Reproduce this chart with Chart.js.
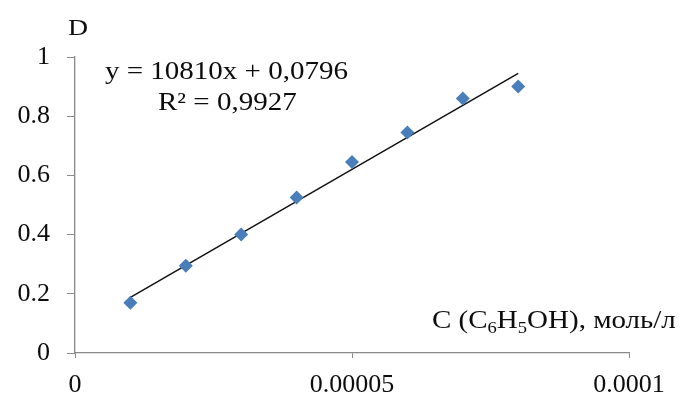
<!DOCTYPE html>
<html>
<head>
<meta charset="utf-8">
<script src="https://cdn.jsdelivr.net/npm/chart.js@4/dist/chart.umd.min.js"></script>
<style>
html,body{margin:0;padding:0;background:#fff;}
#wrap{width:684px;height:397px;position:relative;}
</style>
</head>
<body>
<div id="wrap"><canvas id="c" width="684" height="397"></canvas></div>
<script>
// Data
const concentrations = [0.00001, 0.00002, 0.00003, 0.00004, 0.00005, 0.00006, 0.00007, 0.00008];
const absorbance = [0.17, 0.295, 0.40, 0.525, 0.645, 0.745, 0.86, 0.90];
const xTicks = [0, 0.00005, 0.0001];
const xTickLabels = ['0', '0.00005', '0.0001'];
const yTicks = [0, 0.2, 0.4, 0.6, 0.8, 1];
const yTickLabels = ['0', '0.2', '0.4', '0.6', '0.8', '1'];
// Trend line from the printed equation
const slope = 10810;
const intercept = 0.0796;
const equationText = 'y = 10810x + 0,0796';
const r2Text = 'R² = 0,9927';
const yTitle = 'D';

const FONT = '"Liberation Serif", "Times New Roman", serif';
const AXIS_COLOR = '#898989';
const TEXT_STRETCH = 1.16;

const points = concentrations.map((x, i) => ({x, y: absorbance[i]}));
const xMin = concentrations[0], xMax = concentrations[concentrations.length - 1];
const trend = [{x: xMin, y: slope * xMin + intercept}, {x: xMax, y: slope * xMax + intercept}];

function stretchedText(ctx, text, x, y) {
  ctx.save();
  ctx.translate(x, y);
  ctx.scale(TEXT_STRETCH, 1);
  ctx.fillText(text, 0, 0);
  ctx.restore();
  return ctx.measureText(text).width * TEXT_STRETCH;
}

const textPlugin = {
  id: 'texts',
  afterDraw(chart) {
    const ctx = chart.ctx;
    ctx.save();
    ctx.fillStyle = '#0d0d0d';
    ctx.textBaseline = 'middle';
    ctx.textAlign = 'center';
    ctx.font = '24px ' + FONT;
    stretchedText(ctx, yTitle, 78, 29);
    ctx.textAlign = 'left';
    ctx.font = '25px ' + FONT;
    stretchedText(ctx, equationText, 105, 72);
    stretchedText(ctx, r2Text, 158, 103);
    // x axis title with subscripts
    ctx.textBaseline = 'alphabetic';
    let x = 432;
    const base = 328;
    const parts = [['C (C', 0], ['6', 1], ['H', 0], ['5', 1], ['OH), моль/л', 0]];
    for (const [t, sub] of parts) {
      ctx.font = (sub ? '16px ' : '25px ') + FONT;
      x += stretchedText(ctx, t, x, base + (sub ? 5 : 0));
    }
    ctx.restore();
  }
};

new Chart(document.getElementById('c'), {
  type: 'scatter',
  data: {
    datasets: [
      {
        type: 'line',
        data: trend,
        borderColor: '#111',
        borderWidth: 1.5,
        pointRadius: 0,
        fill: false,
        order: 2
      },
      {
        data: points,
        pointStyle: 'rectRot',
        pointRadius: 7,
        backgroundColor: '#4a7ebb',
        borderColor: '#4a7ebb',
        borderWidth: 0,
        order: 1
      }
    ]
  },
  options: {
    responsive: false,
    animation: false,
    devicePixelRatio: 1,
    layout: {padding: {left: 0, top: 57, right: 55, bottom: 0}},
    plugins: {legend: {display: false}, tooltip: {enabled: false}},
    scales: {
      x: {
        type: 'linear',
        min: 0,
        max: 0.0001,
        afterBuildTicks(scale) { scale.ticks = xTicks.map(v => ({value: v})); },
        afterFit(scale) { scale.height = 44; },
        ticks: {
          callback: (v) => xTickLabels[xTicks.indexOf(v)],
          font: {family: FONT, size: 26},
          color: '#0d0d0d',
          padding: 12,
          maxRotation: 0,
          autoSkip: false
        },
        grid: {drawOnChartArea: false, drawTicks: true, tickLength: 5, color: AXIS_COLOR},
        border: {color: AXIS_COLOR, width: 1.3}
      },
      y: {
        type: 'linear',
        min: 0,
        max: 1,
        afterBuildTicks(scale) { scale.ticks = yTicks.map(v => ({value: v})); },
        afterFit(scale) { scale.width = 75; },
        ticks: {
          callback: (v) => yTickLabels[yTicks.indexOf(v)],
          font: {family: FONT, size: 26},
          color: '#0d0d0d',
          padding: 17
        },
        grid: {drawOnChartArea: false, drawTicks: true, tickLength: 8, color: AXIS_COLOR},
        border: {color: AXIS_COLOR, width: 1.3}
      }
    }
  },
  plugins: [textPlugin]
});
</script>
</body>
</html>
